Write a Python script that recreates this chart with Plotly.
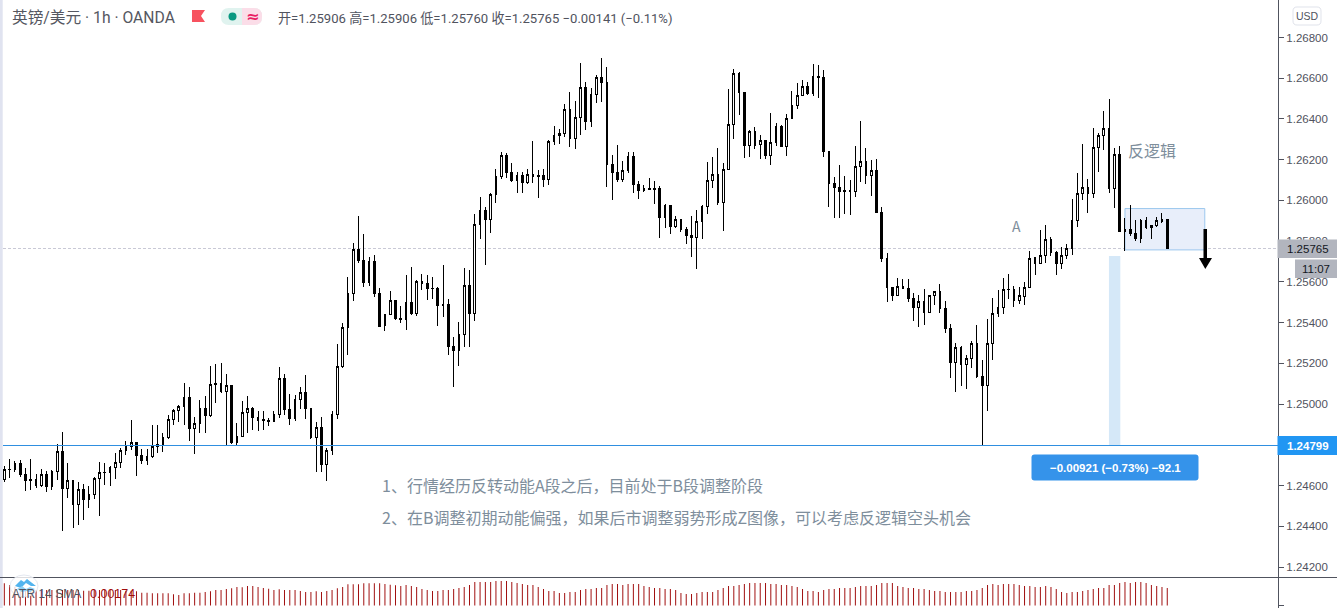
import plotly.graph_objects as go

# ---- data -----------------------------------------------------------------
opens = [
1.24631,1.24678,1.24680,1.24709,1.24655,1.24631,1.24631,1.24601,1.24655,1.24595,
1.24670,1.24768,1.24586,1.24626,1.24506,1.24582,1.24531,1.24555,1.24636,1.24663,
1.24663,1.24690,1.24714,1.24773,1.24793,1.24812,1.24748,1.24722,1.24742,1.24793,
1.24801,1.24835,1.24925,1.24969,1.24989,1.25033,1.24879,1.24906,1.24979,1.24943,
1.25102,1.25102,1.25061,1.25092,1.24811,1.24842,1.24960,1.24979,1.24935,1.24922,
1.24920,1.24914,1.24950,1.25127,1.24974,1.24930,1.25024,1.25058,1.24979,1.24835,
1.24886,1.24703,1.24773,1.24948,1.25183,1.25375,1.25544,1.25760,1.25706,1.25596,
1.25701,1.25544,1.25385,1.25441,1.25509,1.25421,1.25414,1.25499,1.25444,1.25603,
1.25593,1.25568,1.25568,1.25490,1.25490,1.25283,1.25262,1.25342,1.25583,1.25444,
1.25883,1.25952,1.25906,1.26030,1.26119,1.26222,1.26138,1.26097,1.26123,1.26089,
1.26128,1.26122,1.26123,1.26102,1.26290,1.26320,1.26330,1.26448,1.26305,1.26408,
1.26556,1.26387,1.26521,1.26605,1.26580,1.26178,1.26138,1.26102,1.26148,1.26217,
1.26079,1.26048,1.26060,1.26060,1.26060,1.25916,1.25976,1.25871,1.25907,1.25858,
1.25829,1.25817,1.25896,1.25970,1.26099,1.26128,1.25989,1.26153,1.26374,1.26624,
1.26531,1.26269,1.26340,1.26274,1.26295,1.26220,1.26286,1.26364,1.26264,1.26402,
1.26467,1.26516,1.26561,1.26523,1.26610,1.26604,1.26242,1.26084,1.26065,1.26049,
1.26049,1.26042,1.26165,1.26191,1.26121,1.26147,1.25941,1.25715,1.25573,1.25532,
1.25577,1.25568,1.25519,1.25474,1.25504,1.25448,1.25532,1.25553,1.25470,1.25372,
1.25203,1.25278,1.25193,1.25224,1.25298,1.25135,1.25090,1.25296,1.25445,1.25475,
1.25563,1.25565,1.25508,1.25529,1.25571,1.25719,1.25689,1.25730,1.25809,1.25745,
1.25689,1.25728,1.25763,1.25902,1.26033,1.26064,1.26033,1.26260,1.26319,1.26354,
1.26057,1.26226,1.25846,1.25858,1.25838,1.25814,1.25899,1.25868,1.25877,1.25897,
1.25906]
highs = [
1.24696,1.24730,1.24722,1.24726,1.24685,1.24730,1.24655,1.24680,1.24673,1.24676,
1.24804,1.24863,1.24709,1.24627,1.24616,1.24608,1.24596,1.24640,1.24716,1.24709,
1.24698,1.24758,1.24783,1.24817,1.24922,1.24814,1.24778,1.24778,1.24897,1.24897,
1.24857,1.24945,1.24974,1.24994,1.25104,1.25084,1.24935,1.25020,1.25040,1.25187,
1.25197,1.25202,1.25148,1.25094,1.24906,1.25014,1.25040,1.24984,1.24966,1.24966,
1.24930,1.24966,1.25181,1.25148,1.25050,1.25043,1.25084,1.25143,1.24979,1.24914,
1.24935,1.24783,1.24965,1.25295,1.25396,1.25622,1.25789,1.25923,1.25835,1.25720,
1.25730,1.25568,1.25441,1.25555,1.25511,1.25480,1.25634,1.25673,1.25609,1.25637,
1.25632,1.25622,1.25573,1.25681,1.25514,1.25329,1.25401,1.25666,1.25657,1.25932,
1.26019,1.25970,1.26035,1.26153,1.26236,1.26232,1.26184,1.26140,1.26140,1.26153,
1.26292,1.26148,1.26156,1.26295,1.26366,1.26349,1.26472,1.26533,1.26489,1.26674,
1.26582,1.26551,1.26616,1.26698,1.26654,1.26222,1.26272,1.26194,1.26236,1.26236,
1.26096,1.26074,1.26110,1.26096,1.26071,1.25983,1.25976,1.25924,1.25909,1.25870,
1.25924,1.25953,1.25976,1.26189,1.26214,1.26258,1.26186,1.26547,1.26646,1.26629,
1.26534,1.26346,1.26359,1.26322,1.26297,1.26430,1.26379,1.26372,1.26423,1.26538,
1.26575,1.26592,1.26580,1.26670,1.26665,1.26640,1.26245,1.26115,1.26172,1.26120,
1.26100,1.26267,1.26390,1.26257,1.26196,1.26203,1.25967,1.25741,1.25577,1.25617,
1.25613,1.25613,1.25545,1.25535,1.25564,1.25533,1.25555,1.25590,1.25505,1.25391,
1.25298,1.25284,1.25240,1.25309,1.25386,1.25216,1.25417,1.25520,1.25559,1.25619,
1.25639,1.25580,1.25576,1.25599,1.25752,1.25722,1.25855,1.25879,1.25818,1.25750,
1.25773,1.25786,1.26008,1.26133,1.26277,1.26103,1.26355,1.26329,1.26437,1.26498,
1.26256,1.26267,1.25913,1.25977,1.25904,1.25907,1.25918,1.25879,1.25920,1.25938,
1.25906]
lows = [
1.24619,1.24639,1.24665,1.24644,1.24575,1.24578,1.24590,1.24595,1.24570,1.24578,
1.24627,1.24379,1.24541,1.24393,1.24406,1.24431,1.24491,1.24536,1.24452,1.24603,
1.24600,1.24634,1.24688,1.24750,1.24775,1.24649,1.24706,1.24701,1.24737,1.24758,
1.24766,1.24829,1.24897,1.24914,1.24897,1.24821,1.24757,1.24860,1.24860,1.24938,
1.25007,1.25053,1.24799,1.24806,1.24799,1.24840,1.24860,1.24873,1.24868,1.24873,
1.24893,1.24914,1.24930,1.24947,1.24899,1.24919,1.24974,1.24929,1.24830,1.24668,
1.24668,1.24624,1.24750,1.24929,1.25179,1.25242,1.25508,1.25694,1.25576,1.25581,
1.25526,1.25378,1.25360,1.25439,1.25413,1.25400,1.25364,1.25439,1.25432,1.25560,
1.25513,1.25516,1.25383,1.25427,1.25242,1.25085,1.25188,1.25282,1.25282,1.25409,
1.25812,1.25685,1.25842,1.25989,1.26107,1.26109,1.26092,1.26038,1.26038,1.26079,
1.26087,1.26014,1.26068,1.26078,1.26272,1.26279,1.26313,1.26264,1.26254,1.26322,
1.26346,1.26361,1.26480,1.26485,1.26068,1.26004,1.26092,1.26092,1.26137,1.26038,
1.26009,1.26043,1.26051,1.25984,1.25817,1.25866,1.25837,1.25866,1.25844,1.25788,
1.25724,1.25665,1.25812,1.25935,1.26061,1.25976,1.25852,1.26153,1.26304,1.26417,
1.26210,1.26215,1.26250,1.26204,1.26202,1.26176,1.26268,1.26264,1.26218,1.26402,
1.26451,1.26513,1.26518,1.26515,1.26505,1.26215,1.25969,1.25915,1.25915,1.25931,
1.25930,1.26018,1.26091,1.26082,1.26023,1.25939,1.25699,1.25502,1.25505,1.25532,
1.25564,1.25502,1.25409,1.25380,1.25388,1.25448,1.25486,1.25448,1.25350,1.25129,
1.25060,1.25090,1.25073,1.25178,1.25126,1.24799,1.24967,1.25217,1.25428,1.25442,
1.25516,1.25478,1.25491,1.25486,1.25568,1.25634,1.25687,1.25694,1.25728,1.25633,
1.25663,1.25714,1.25732,1.25868,1.26002,1.25936,1.26013,1.26141,1.26247,1.26035,
1.25964,1.25846,1.25753,1.25827,1.25802,1.25792,1.25861,1.25812,1.25868,1.25890,
1.25760]
closes = [
1.24680,1.24680,1.24709,1.24654,1.24626,1.24624,1.24600,1.24655,1.24595,1.24668,
1.24768,1.24586,1.24626,1.24506,1.24582,1.24531,1.24557,1.24636,1.24665,1.24665,
1.24690,1.24714,1.24773,1.24793,1.24812,1.24747,1.24722,1.24744,1.24793,1.24803,
1.24837,1.24925,1.24969,1.24989,1.25033,1.24879,1.24906,1.24979,1.24943,1.25097,
1.25096,1.25061,1.25092,1.24809,1.24842,1.24960,1.24979,1.24933,1.24919,1.24920,
1.24915,1.24950,1.25127,1.24973,1.24929,1.25024,1.25058,1.24978,1.24835,1.24886,
1.24703,1.24773,1.24950,1.25186,1.25377,1.25544,1.25760,1.25704,1.25596,1.25701,
1.25542,1.25383,1.25441,1.25509,1.25419,1.25414,1.25499,1.25444,1.25604,1.25591,
1.25567,1.25567,1.25483,1.25483,1.25282,1.25262,1.25342,1.25583,1.25444,1.25882,
1.25950,1.25906,1.26030,1.26119,1.26222,1.26137,1.26097,1.26123,1.26087,1.26128,
1.26117,1.26117,1.26102,1.26290,1.26320,1.26330,1.26448,1.26304,1.26408,1.26556,
1.26387,1.26521,1.26605,1.26579,1.26176,1.26137,1.26102,1.26148,1.26217,1.26078,
1.26048,1.26060,1.26055,1.26053,1.25916,1.25976,1.25871,1.25907,1.25857,1.25827,
1.25817,1.25898,1.25971,1.26099,1.26128,1.25989,1.26153,1.26374,1.26624,1.26531,
1.26269,1.26340,1.26272,1.26295,1.26220,1.26286,1.26364,1.26264,1.26402,1.26467,
1.26516,1.26561,1.26523,1.26610,1.26603,1.26239,1.26082,1.26062,1.26042,1.26042,
1.26042,1.26167,1.26191,1.26121,1.26147,1.25939,1.25713,1.25571,1.25532,1.25577,
1.25566,1.25517,1.25473,1.25504,1.25448,1.25533,1.25553,1.25468,1.25370,1.25203,
1.25278,1.25193,1.25224,1.25298,1.25134,1.25090,1.25298,1.25445,1.25474,1.25565,
1.25565,1.25508,1.25531,1.25573,1.25716,1.25689,1.25731,1.25809,1.25743,1.25689,
1.25730,1.25763,1.25902,1.26035,1.26064,1.26033,1.26260,1.26319,1.26354,1.26057,
1.26226,1.25846,1.25858,1.25836,1.25814,1.25899,1.25866,1.25877,1.25899,1.25907,
1.25765]
atr = [
.00221,.00204,.00187,.00171,.00161,.00154,.00154,.00154,.00154,.00154,
.00154,.00154,.00154,.00154,.00154,.00147,.00147,.00154,.00154,.00154,
.00154,.00154,.00154,.00147,.00147,.00141,.00127,.00127,.00121,.00121,
.00121,.00121,.00111,.00104,.00121,.00121,.00127,.00127,.00134,.00141,
.00154,.00154,.00164,.00171,.00184,.00181,.00194,.00194,.00184,.00174,
.00167,.00154,.00161,.00154,.00154,.00154,.00144,.00134,.00134,.00141,
.00134,.00144,.00154,.00171,.00184,.00211,.00211,.00211,.00221,.00221,
.00221,.00221,.00214,.00207,.00200,
.00194,.00204,.00194,.00184,.00164,.00154,.00144,.00144,.00154,.00154,
.00164,.00174,.00184,.00204,.00233,.00233,.00233,.00233,.00243,.00243,
.00243,.00233,.00223,.00214,.00204,.00204,.00184,.00164,.00144,.00144,
.00124,.00124,.00134,.00134,.00154,.00164,.00164,.00174,.00174,.00204,
.00214,.00214,.00204,.00214,.00214,.00214,.00194,.00184,.00174,.00174,
.00164,.00164,.00154,.00124,.00114,.00114,.00124,.00134,.00134,.00134,
.00154,.00174,.00194,.00194,.00204,.00214,.00223,.00223,.00223,.00223,
.00214,.00214,.00204,.00204,.00194,.00184,
.00164,.00144,.00144,.00134,.00154,.00164,.00164,.00174,.00174,.00174,
.00184,.00194,.00194,.00194,.00204,.00223,.00223,.00223,.00194,.00184,
.00174,.00174,.00164,.00164,.00154,.00144,.00144,.00134,.00134,.00134,
.00134,.00144,.00144,.00154,.00174,.00204,.00214,.00204,.00214,.00214,
.00214,.00204,.00194,.00194,.00184,.00184,.00194,.00184,.00164,.00134,
.00124,.00134,.00134,.00144,.00154,.00164,.00174,.00174,.00204,.00204,
.00223,.00233,.00223,.00233,.00233,.00223,.00204,.00194,.00184,.00174]
bars = list(range(len(closes)))

price_ticks = [1.242,1.244,1.246,1.250,1.252,1.254,1.256,1.258,1.260,1.262,1.264,1.266,1.268]
last_price = 1.25765
level_price = 1.24799
position_top = 1.25727
box_top, box_bottom = 1.25960, 1.25757
title = "英镑/美元 · 1h · OANDA"
ohlc_text = "开=1.25906 高=1.25906 低=1.25760 收=1.25765 −0.00141 (−0.11%)"
note1 = "1、行情经历反转动能A段之后，目前处于B段调整阶段"
note2 = "2、在B调整初期动能偏强，如果后市调整弱势形成Z图像，可以考虑反逻辑空头机会"
measure = "−0.00921 (−0.73%) −92.1"

W, H = 1340, 608
CJK = "Noto Sans CJK SC"
HEAD = "Roboto, Noto Sans CJK SC"
AX = "Liberation Sans"
GREY = "#50535e"
NOTE = "#7e8e9c"
def X(p): return p / W
def Y(p): return 1 - p / H

fig = go.Figure()
fig.add_trace(go.Candlestick(
    x=bars, open=opens, high=highs, low=lows, close=closes,
    increasing=dict(line=dict(color="#000000", width=1), fillcolor="#ffffff"),
    decreasing=dict(line=dict(color="#000000", width=1), fillcolor="#000000"),
    whiskerwidth=0, showlegend=False, hoverinfo="skip", xaxis="x", yaxis="y"))
fig.add_trace(go.Bar(x=bars, y=atr, width=0.1895, marker=dict(color="rgba(160,13,13,0.99)", line=dict(width=0)),
                     showlegend=False, xaxis="x", yaxis="y2", hoverinfo="skip"))

shapes = []
def box(x0, y0, x1, y1, fill, line=None, layer="above", lw=1):
    shapes.append(dict(type="rect", xref="paper", yref="paper", x0=X(x0), x1=X(x1), y0=Y(y0), y1=Y(y1),
                       fillcolor=fill, line=dict(color=line or fill, width=lw if line else 0), layer=layer))
def path(points, fill, layer="above"):
    d = "M" + " L".join(f"{X(a):.5f},{Y(b):.5f}" for a, b in points) + " Z"
    shapes.append(dict(type="path", xref="paper", yref="paper", path=d, fillcolor=fill, line=dict(width=0), layer=layer))
def round_rect(x0, y0, x1, y1, r, fill, line=None):
    d = (f"M{X(x0+r):.5f},{Y(y0):.5f} L{X(x1-r):.5f},{Y(y0):.5f} Q{X(x1):.5f},{Y(y0):.5f} {X(x1):.5f},{Y(y0+r):.5f} "
         f"L{X(x1):.5f},{Y(y1-r):.5f} Q{X(x1):.5f},{Y(y1):.5f} {X(x1-r):.5f},{Y(y1):.5f} "
         f"L{X(x0+r):.5f},{Y(y1):.5f} Q{X(x0):.5f},{Y(y1):.5f} {X(x0):.5f},{Y(y1-r):.5f} "
         f"L{X(x0):.5f},{Y(y0+r):.5f} Q{X(x0):.5f},{Y(y0):.5f} {X(x0+r):.5f},{Y(y0):.5f} Z")
    shapes.append(dict(type="path", xref="paper", yref="paper", path=d, fillcolor=fill,
                       line=dict(color=line or fill, width=1 if line else 0), layer="above"))

# drawings tied to the price scale
shapes.append(dict(type="rect", xref="x", yref="y", x0=212.0, x1=227.1, y0=box_bottom, y1=box_top,
                   fillcolor="#e8eefa", line=dict(color="#9cc8ee", width=1), layer="below"))
shapes.append(dict(type="rect", xref="x", yref="y", x0=208.97, x1=211.12, y0=level_price, y1=position_top,
                   fillcolor="#d5e8f8", line=dict(width=0), layer="below"))
shapes.append(dict(type="line", xref="paper", yref="paper", x0=X(3), x1=X(1278), y0=Y(248.5), y1=Y(248.5),
                   line=dict(color="#c9c9d6", width=1, dash="3px,2px"), layer="below"))
shapes.append(dict(type="line", xref="paper", yref="paper", x0=X(3), x1=X(1278), y0=Y(445.5), y1=Y(445.5),
                   line=dict(color="#2f8fe0", width=1), layer="above"))

# chrome
box(0, 0, 2.7, H, "#e0e3f0")
shapes.append(dict(type="line", xref="paper", yref="paper", x0=0, x1=X(1337), y0=Y(577.5), y1=Y(577.5),
                   line=dict(color=GREY, width=1), layer="above"))
box(1277.5, 239.5, 1337, 258, "#b2b5be")
box(1295, 259.5, 1337, 278, "#b2b5be")
box(1277.5, 436, 1337, 455, "#2196f3")
round_rect(1031.5, 454.5, 1198.5, 480.5, 3, "#3593ea")
round_rect(1293, 7, 1321, 25, 4, "#ffffff", "#e0e3eb")
# down arrow
path([(1203.5, 229), (1207, 229), (1207, 258), (1212, 258), (1205.3, 269), (1199, 258), (1203.5, 258)], "#000000")
# flag
path([(192, 10), (205, 10), (201, 16), (205, 22), (192, 22)], "#f7525f")
# status pills
round_rect(221, 8, 262, 25, 8, "#e0f3ef")
round_rect(242, 8, 262, 25, 8, "#fbdde8")
box(242, 8, 250, 25, "#fbdde8")
shapes.append(dict(type="circle", xref="paper", yref="paper", x0=X(228.5), x1=X(236.5), y0=Y(20.5), y1=Y(12.5),
                   fillcolor="#089981", line=dict(width=0), layer="above"))
# logo behind pane legend
shapes.append(dict(type="circle", xref="paper", yref="paper", x0=X(10), x1=X(38), y0=Y(597), y1=Y(575),
                   fillcolor="rgba(255,255,255,0.8)", line=dict(color="rgba(220,225,235,0.8)", width=1), layer="above"))
path([(15, 586), (21, 580), (24, 582), (27, 579), (36, 586), (31, 586), (26, 583), (21, 588)], "#52b4ee")
path([(17, 589), (22, 586), (26, 589), (30, 587), (35, 589), (30, 592), (26, 591), (22, 592)], "#8fd0f5")

def label(px, py, text, size, color, family=AX, anchor="left", bold=False):
    t = f"<b>{text}</b>" if bold else text
    return dict(xref="paper", yref="paper", x=X(px), y=Y(py), text=t, showarrow=False, xanchor=anchor, yanchor="middle",
                font=dict(family=family, size=size, color=color), align=anchor)

anns = [
    label(10, 17, title, 15.7, "#555761", family=HEAD),
    label(276, 17.5, ohlc_text, 13.1, GREY, family=HEAD),
    label(244, 16.5, "≈", 16, "#e91e63", family="DejaVu Sans", bold=True),
    label(1307, 16, "USD", 10.5, GREY, anchor="center"),
    label(1285, 248.7, "1.25765", 11.5, "#131722"),
    label(1332, 268.7, "11:07", 11.5, "#131722", anchor="right"),
    label(1285, 445.5, "1.24799", 11.5, "#ffffff", bold=True),
    label(1115, 467.5, measure, 11.5, "#ffffff", anchor="center", bold=True),
    label(1126, 150, "反逻辑", 16, NOTE, family=CJK),
    label(1010, 226, "A", 14, NOTE, family=CJK),
    label(380, 485, note1, 16, NOTE, family=CJK),
    label(380, 517, note2, 16, NOTE, family=CJK),
    label(10, 594, "ATR 14 SMA", 12, GREY),
    label(88, 594, "0.00174", 12.5, "#a00d0d"),
]

tick_font = dict(family=AX, size=11.5, color=GREY)
fig.update_layout(
    width=W, height=H, margin=dict(l=0, r=0, t=0, b=0), paper_bgcolor="#ffffff", plot_bgcolor="#ffffff",
    showlegend=False, boxgap=0.55, hovermode=False, dragmode=False,
    xaxis=dict(domain=[X(3), X(1278)], range=[-0.252, 240.95], showticklabels=False, showgrid=False, zeroline=False,
               ticks="", showline=False, rangeslider=dict(visible=False), anchor="y", fixedrange=True),
    yaxis=dict(domain=[Y(577), 1], range=[1.24151, 1.26984], side="right", tickvals=price_ticks, tickformat=".5f",
               showgrid=False, zeroline=False, showline=True, linecolor=GREY, linewidth=1, ticks="outside", ticklen=5,
               tickcolor=GREY, tickfont=tick_font, anchor="x", fixedrange=True),
    yaxis2=dict(domain=[0, Y(578)], range=[-0.00025, 0.00273], side="right", tickvals=[0], ticktext=["0.00000"],
                showgrid=False, zeroline=False, showline=True, linecolor=GREY, linewidth=1, ticks="outside", ticklen=5,
                tickcolor=GREY, tickfont=tick_font, anchor="x", fixedrange=True),
    shapes=shapes, annotations=anns,
)
post = """
document.body.style.margin='0';document.body.style.overflow='hidden';
var gd=document.getElementById('{plot_id}');
function crisp(){document.querySelectorAll('.boxes path').forEach(function(p){p.style.shapeRendering='crispEdges';});}
crisp();setTimeout(crisp,50);if(gd&&gd.on){gd.on('plotly_afterplot',crisp);}
"""
fig.write_html("out.html", post_script=post, config=dict(displayModeBar=False))
